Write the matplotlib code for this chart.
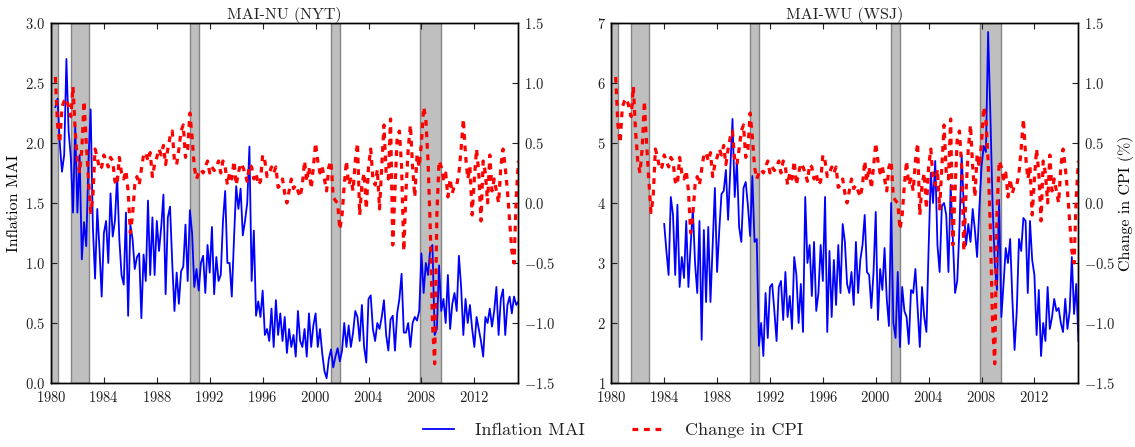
import numpy as np
import matplotlib
matplotlib.use("Agg")
import matplotlib.pyplot as plt
from matplotlib.ticker import FixedLocator, FuncFormatter

plt.rcParams.update({
    "font.family": "serif",
    "font.serif": ["cmr10"],
    "mathtext.fontset": "cm",
    "axes.formatter.use_mathtext": True,
    "text.color": "#222222",
    "xtick.color": "#222222",
    "ytick.color": "#222222",
    "axes.linewidth": 1.0,
})

nan = np.nan

# Bimonthly observations starting Jan 1980 (six values per year)
mai_nu = [
    nan, nan, 2.30, 2.37, 2.00, 1.76,
    1.90, 2.70, 2.10, 1.88, 1.42, 2.14,
    1.42, 1.90, 1.03, 1.34, 1.14, 1.85,
    2.28, 1.30, 0.87, 1.45, 1.12, 0.72,
    1.25, 1.35, 1.00, 1.58, 1.22, 1.35,
    1.72, 1.20, 0.90, 0.82, 1.42, 0.56,
    1.32, 1.20, 0.95, 1.05, 1.08, 0.54,
    1.07, 0.85, 1.52, 0.90, 1.38, 0.90,
    1.35, 1.10, 1.30, 1.57, 0.74, 1.38,
    1.47, 1.00, 0.60, 0.92, 0.66, 0.93,
    0.97, 1.32, 0.85, 1.44, 1.25, 0.80,
    0.95, 0.77, 1.00, 1.06, 0.75, 1.15,
    0.92, 1.30, 0.74, 1.05, 0.85, 0.90,
    1.35, 1.60, 1.00, 1.00, 0.72, 1.20,
    1.64, 1.45, 1.62, 1.23, 1.35, 1.50,
    1.97, 0.85, 1.27, 0.56, 0.68, 0.55,
    0.77, 0.40, 0.45, 0.35, 0.62, 0.30,
    0.69, 0.40, 0.58, 0.35, 0.55, 0.25,
    0.45, 0.30, 0.40, 0.22, 0.60, 0.35,
    0.30, 0.45, 0.22, 0.58, 0.30, 0.48,
    0.58, 0.30, 0.45, 0.25, 0.10, 0.04,
    0.20, 0.28, 0.13, 0.22, 0.29, 0.18,
    0.27, 0.50, 0.30, 0.48, 0.30, 0.42,
    0.60, 0.55, 0.35, 0.65, 0.30, 0.17,
    0.70, 0.73, 0.45, 0.35, 0.50, 0.45,
    0.55, 0.69, 0.40, 0.27, 0.53, 0.56,
    0.27, 0.58, 0.70, 0.91, 0.42, 0.42,
    0.50, 0.30, 0.50, 0.55, 0.52, 0.60,
    1.08, 0.75, 1.00, 0.90, 1.12, 1.15,
    0.40, 0.45, 0.98, 0.60, 0.70, 0.50,
    0.90, 0.45, 0.66, 0.75, 0.60, 1.06,
    0.80, 0.40, 0.70, 0.50, 0.65, 0.45,
    0.30, 0.55, 0.45, 0.35, 0.22, 0.55,
    0.50, 0.62, 0.47, 0.60, 0.80, 0.40,
    0.70, 0.78, 0.40, 0.65, 0.72, 0.58,
    0.72, 0.65, 0.68,
]

mai_wu = [nan] * 24 + [
    3.65, 3.20, 2.80, 4.10, 3.80, 2.80,
    3.97, 2.60, 3.10, 2.75, 3.70, 2.60,
    3.30, 3.90, 3.00, 2.50, 3.70, 1.72,
    3.55, 2.35, 3.60, 2.35, 3.30, 4.25,
    2.85, 3.55, 4.15, 4.20, 4.55, 3.72,
    4.55, 5.40, 4.10, 4.70, 3.60, 3.35,
    4.25, 4.35, 3.95, 3.45, 4.45, 3.35,
    3.40, 1.62, 2.00, 1.45, 2.50, 1.75,
    2.60, 2.65, 2.20, 1.70, 2.60, 2.70,
    2.05, 2.85, 2.10, 2.45, 1.90, 3.10,
    2.80, 2.00, 2.65, 1.85, 4.10, 3.00,
    3.30, 2.45, 3.35, 2.20, 2.50, 3.30,
    2.70, 4.10, 1.85, 3.20, 2.10, 3.05,
    2.30, 3.30, 2.50, 3.65, 3.35, 2.65,
    2.50, 2.85, 2.30, 3.35, 2.50, 3.05,
    3.30, 3.80, 2.85, 2.80, 2.25, 2.85,
    3.85, 2.05, 2.90, 2.55, 3.25, 2.40,
    1.95, 4.00, 2.00, 1.75, 2.85, 1.60,
    2.60, 2.20, 2.10, 1.65, 2.55, 2.50,
    2.90, 2.25, 1.60, 2.60, 2.10, 1.85,
    3.25, 4.50, 4.00, 4.70, 3.30, 2.85,
    3.95, 4.00, 3.80, 2.85, 4.30, 3.40,
    2.50, 2.70, 3.60, 4.80, 3.90, 3.30,
    3.65, 3.35, 3.90, 3.55, 3.10, 3.90,
    4.60, 4.95, 4.85, 6.85, 5.50, 4.00,
    3.00, 2.55, 4.05, 2.10, 2.65, 3.25,
    3.00, 3.40, 2.40, 1.55, 2.20, 3.40,
    3.20, 3.75, 3.70, 2.50, 3.70, 3.05,
    2.80, 1.80, 2.55, 1.45, 2.00, 1.70,
    2.60, 1.90, 2.10, 2.40, 2.20, 2.25,
    2.00, 1.85, 2.40, 1.90, 2.20, 3.10,
    2.15, 2.65, 1.70,
]

cpi_change = [
    nan, nan, 1.05, 0.65, 0.50, 0.80,
    0.85, 0.87, 0.80, 0.72, 0.97, 0.60,
    0.35, 0.25, 0.45, 0.85, 0.50, 0.20,
    -0.08, 0.05, 0.45, 0.38, 0.28, 0.30,
    0.40, 0.35, 0.30, 0.38, 0.35, 0.18,
    0.15, 0.38, 0.25, 0.20, 0.27, 0.10,
    -0.25, -0.10, 0.15, 0.22, 0.15, 0.28,
    0.40, 0.42, 0.35, 0.42, 0.22, 0.32,
    0.38, 0.45, 0.40, 0.48, 0.32, 0.45,
    0.55, 0.60, 0.35, 0.32, 0.45, 0.60,
    0.65, 0.38, 0.45, 0.75, 0.55, 0.30,
    0.20, 0.25, 0.28, 0.25, 0.30, 0.35,
    0.25, 0.30, 0.27, 0.30, 0.35, 0.25,
    0.35, 0.30, 0.15, 0.25, 0.20, 0.35,
    0.15, 0.25, 0.33, 0.30, 0.25, 0.18,
    0.32, 0.30, 0.20, 0.25, 0.15, 0.18,
    0.40, 0.35, 0.22, 0.25, 0.30, 0.25,
    0.30, 0.13, 0.15, 0.20, 0.08, 0.00,
    0.10, 0.20, 0.12, 0.15, 0.10, 0.05,
    0.15, 0.35, 0.18, 0.30, 0.12, 0.30,
    0.50, 0.35, 0.25, 0.30, 0.20, 0.10,
    0.30, 0.35, 0.05, 0.02, 0.00, -0.22,
    -0.10, 0.15, 0.35, 0.15, 0.20, 0.10,
    0.35, 0.50, -0.10, 0.15, 0.25, -0.05,
    0.30, 0.45, 0.20, 0.15, 0.28, -0.05,
    0.30, 0.65, 0.25, 0.20, 0.70, -0.35,
    0.10, 0.55, 0.60, 0.30, -0.40, 0.10,
    0.45, 0.65, 0.30, 0.05, 0.40, 0.30,
    0.50, 0.80, 0.70, 0.35, -0.20, -1.00,
    -1.34, -0.10, 0.35, 0.30, 0.20, 0.25,
    0.05, 0.20, 0.08, 0.15, 0.15, 0.25,
    0.45, 0.70, 0.40, 0.20, 0.30, -0.10,
    0.20, 0.45, 0.25, -0.15, 0.35, 0.25,
    0.00, 0.40, 0.10, 0.20, 0.10, 0.00,
    0.30, 0.45, 0.30, 0.10, -0.15, -0.40,
    -0.50, 0.05, 0.35,
]

# NBER recession periods (start, end) in fractional years
recessions = [(1980.0, 1980.5), (1981.5, 1982.87), (1990.5, 1991.17),
              (2001.17, 2001.87), (2007.92, 2009.45)]

year_ticks = list(range(1980, 2013, 4))
titles = ["MAI-NU (NYT)", "MAI-WU (WSJ)"]

t_nu = 1980 + np.arange(len(mai_nu)) / 6.0
t_wu = 1980 + np.arange(len(mai_wu)) / 6.0
t_cpi = 1980 + np.arange(len(cpi_change)) / 6.0

fig = plt.figure(figsize=(11.35, 4.47), dpi=100)

math_fmt1 = FuncFormatter(lambda v, p: f"${v:.1f}$")
math_int = FuncFormatter(lambda v, p: f"${int(round(v))}$")


def panel(rect, t, mai, ylim, yticks, yfmt, title):
    ax = fig.add_axes(rect)
    for a, b in recessions:
        ax.axvspan(a, b, facecolor="#bfbfbf", edgecolor="#858585", lw=1.0, zorder=0)
    l1, = ax.plot(t, mai, color="#0000ff", lw=1.3, zorder=2)
    ax.set_xlim(1980, 2015.3)
    ax.set_ylim(*ylim)
    ax.xaxis.set_major_locator(FixedLocator(year_ticks))
    ax.xaxis.set_major_formatter(math_int)
    ax.yaxis.set_major_locator(FixedLocator(yticks))
    ax.yaxis.set_major_formatter(yfmt)
    ax.tick_params(axis="x", which="both", top=True, bottom=True, direction="in",
                   length=4, labelsize=10.5, pad=5)
    ax.tick_params(axis="y", left=True, right=False, direction="in",
                   length=4, labelsize=10.5, pad=4)
    ax.set_title(title, fontsize=11.5, pad=3)

    ax2 = ax.twinx()
    l2, = ax2.plot(t_cpi, cpi_change, color="#ff0000", lw=2.3, dashes=(1.8, 1.8))
    ax2.set_ylim(-1.5, 1.5)
    ax2.yaxis.set_major_locator(FixedLocator([-1.5, -1.0, -0.5, 0.0, 0.5, 1.0, 1.5]))
    ax2.yaxis.set_major_formatter(math_fmt1)
    ax2.tick_params(axis="y", direction="in", length=4, labelsize=10.5, pad=4)
    ax2.set_xlim(1980, 2015.3)
    return ax, ax2, l1, l2


axL, axL2, h1, h2 = panel([0.0449, 0.1432, 0.4115, 0.8054], t_nu, mai_nu,
                          (0.0, 3.0), [0.0, 0.5, 1.0, 1.5, 2.0, 2.5, 3.0],
                          math_fmt1, titles[0])
axR, axR2, _, _ = panel([0.5386, 0.1432, 0.4112, 0.8054], t_wu, mai_wu,
                        (1, 7), [1, 2, 3, 4, 5, 6, 7], math_int, titles[1])

axL.set_ylabel("Inflation MAI", fontsize=11.5, labelpad=3)
axR2.set_ylabel("Change in CPI (%)", fontsize=11.5, labelpad=2)

fig.legend([h1, h2], ["Inflation MAI", "Change in CPI"], loc="center",
           bbox_to_anchor=(0.54, 0.038), ncol=2, frameon=False, fontsize=13,
           handlelength=1.7, columnspacing=2.6, handletextpad=1.2)

fig.savefig("out.png", dpi=100)
